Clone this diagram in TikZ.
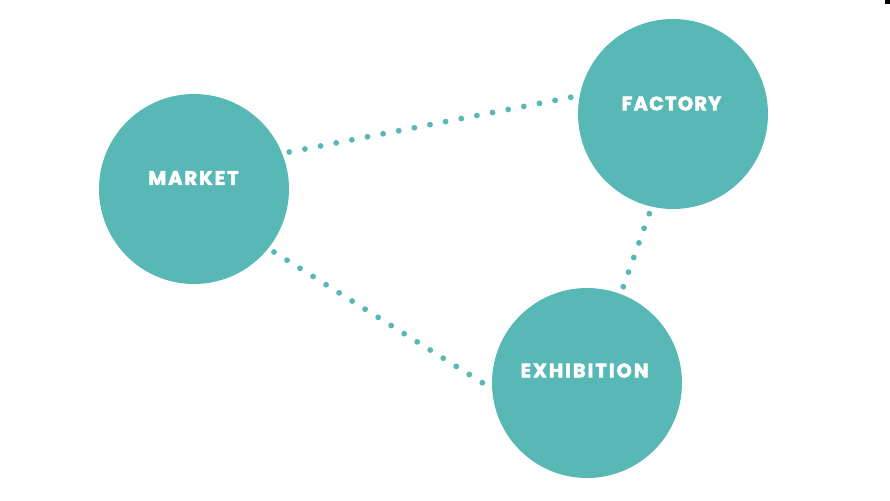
\documentclass[tikz,border=0pt]{standalone}
\usepackage{fontspec}
\usetikzlibrary{calc}
\newfontfamily\lblfont{Poppins}[LetterSpace=10, BoldFeatures={FakeBold=2.5}]
\newfontfamily\lblfontb{Poppins}[LetterSpace=6, BoldFeatures={FakeBold=2.5}]
\definecolor{teal1}{HTML}{57B8B6}
\tikzset{
  hub/.style={circle, fill=teal1, minimum size=190pt, inner sep=0pt},
  lbl/.style={text=white, font=\lblfont\fontsize{19.5}{22}\selectfont\bfseries, inner sep=0pt, anchor=center},
  lblb/.style={lbl, font=\lblfontb\fontsize{19.5}{22}\selectfont\bfseries},
  dotfill/.style={fill=teal1},
}
\newcommand{\dotrow}[3]{\foreach \i in {0,...,#3} \fill[dotfill] ($(#1)!\i/#3!(#2)$) circle (2.9pt);}
\begin{document}
\begin{tikzpicture}[x=1pt,y=-1pt]
\useasboundingbox (0,0) rectangle (890,500);
\fill[black] (885,0) rectangle (890,4);
\node[hub] (market) at (194,189) {};
\node[hub] (factory) at (673,114) {};
\node[hub] (exhib) at (587,383) {};
\node[lbl] (tm) at (193.5,178) {MARKET};
\node[lblb] (tf) at (671.5,103.5) {FACTORY};
\node[lbl] (te) at (584.5,370.5) {EXHIBITION};
\coordinate (mf1) at (289.3,152);
\coordinate (mf2) at (570.7,97.3);
\coordinate (me1) at (274,252);
\coordinate (me2) at (482.3,382.7);
\coordinate (fe1) at (649.3,213.7);
\coordinate (fe2) at (623.3,286.7);
\dotrow{mf1}{mf2}{18}
\dotrow{me1}{me2}{16}
\dotrow{fe1}{fe2}{5}
\end{tikzpicture}
\end{document}
